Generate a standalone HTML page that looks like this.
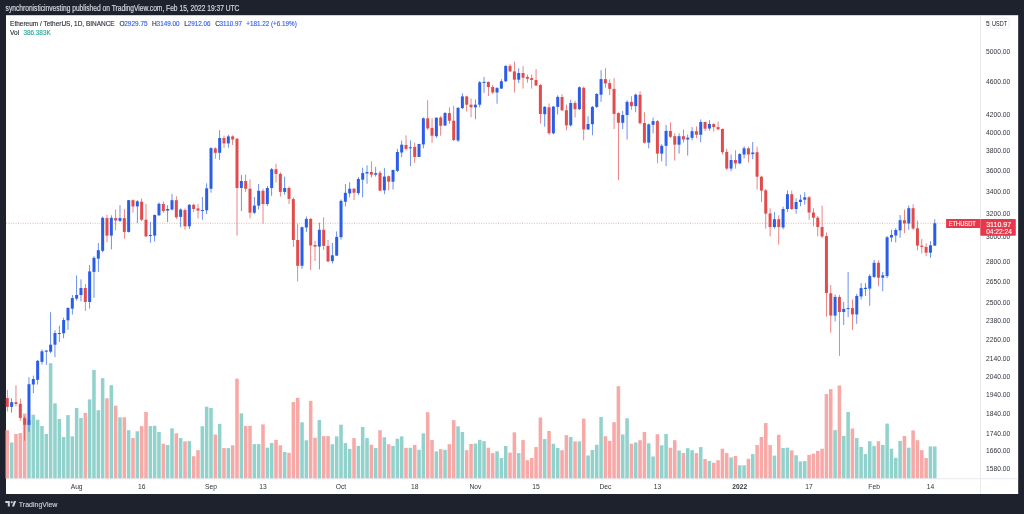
<!DOCTYPE html>
<html><head><meta charset="utf-8"><style>
html,body{margin:0;padding:0;}
body{width:1024px;height:514px;overflow:hidden;background:#1e222d;position:relative;font-family:"Liberation Sans", sans-serif;}
svg{position:absolute;left:0;top:0;will-change:transform;}
</style></head><body>
<svg width="1024" height="514" viewBox="0 0 1024 514" font-family='"Liberation Sans", sans-serif'>
<defs><filter id="soft" x="-5%" y="-50%" width="110%" height="200%"><feGaussianBlur stdDeviation="0.28"/></filter></defs>
<rect x="0" y="0" width="1024" height="514" fill="#1e222d"/>
<text x="5.6" y="10.9" font-size="8.4" fill="#d1d4dc" stroke="#d1d4dc" stroke-width="0.22" filter="url(#soft)" textLength="233.8" lengthAdjust="spacingAndGlyphs">synchronisticinvesting published on TradingView.com, Feb 15, 2022 19:37 UTC</text>
<rect x="6" y="15.2" width="1012.2" height="478.8" fill="#ffffff"/>
<g id="vol">
<rect x="5.53" y="430.2" width="3.55" height="48.4" fill="#f7a9a7"/>
<rect x="9.86" y="442.5" width="3.55" height="36.1" fill="#92d2cc"/>
<rect x="14.19" y="434" width="3.55" height="44.6" fill="#f7a9a7"/>
<rect x="18.53" y="433.1" width="3.55" height="45.5" fill="#f7a9a7"/>
<rect x="22.86" y="413.6" width="3.55" height="65" fill="#f7a9a7"/>
<rect x="27.2" y="420" width="3.55" height="58.6" fill="#92d2cc"/>
<rect x="31.53" y="414.8" width="3.55" height="63.8" fill="#92d2cc"/>
<rect x="35.86" y="419.8" width="3.55" height="58.8" fill="#92d2cc"/>
<rect x="40.2" y="426.1" width="3.55" height="52.5" fill="#92d2cc"/>
<rect x="44.53" y="434" width="3.55" height="44.6" fill="#92d2cc"/>
<rect x="48.86" y="363.2" width="3.55" height="115.4" fill="#92d2cc"/>
<rect x="53.2" y="403.3" width="3.55" height="75.3" fill="#92d2cc"/>
<rect x="57.53" y="419" width="3.55" height="59.6" fill="#92d2cc"/>
<rect x="61.87" y="437" width="3.55" height="41.6" fill="#92d2cc"/>
<rect x="66.2" y="415.1" width="3.55" height="63.5" fill="#92d2cc"/>
<rect x="70.53" y="436.3" width="3.55" height="42.3" fill="#92d2cc"/>
<rect x="74.87" y="408" width="3.55" height="70.6" fill="#92d2cc"/>
<rect x="79.2" y="418" width="3.55" height="60.6" fill="#92d2cc"/>
<rect x="83.54" y="412.9" width="3.55" height="65.7" fill="#f7a9a7"/>
<rect x="87.87" y="399.4" width="3.55" height="79.2" fill="#92d2cc"/>
<rect x="92.2" y="369.9" width="3.55" height="108.7" fill="#92d2cc"/>
<rect x="96.54" y="410.2" width="3.55" height="68.4" fill="#92d2cc"/>
<rect x="100.87" y="378.2" width="3.55" height="100.4" fill="#92d2cc"/>
<rect x="105.21" y="398.3" width="3.55" height="80.3" fill="#f7a9a7"/>
<rect x="109.54" y="385.2" width="3.55" height="93.4" fill="#92d2cc"/>
<rect x="113.87" y="405.7" width="3.55" height="72.9" fill="#f7a9a7"/>
<rect x="118.21" y="417.3" width="3.55" height="61.3" fill="#92d2cc"/>
<rect x="122.54" y="417.3" width="3.55" height="61.3" fill="#f7a9a7"/>
<rect x="126.88" y="430.2" width="3.55" height="48.4" fill="#92d2cc"/>
<rect x="131.21" y="438" width="3.55" height="40.6" fill="#f7a9a7"/>
<rect x="135.54" y="431.3" width="3.55" height="47.3" fill="#92d2cc"/>
<rect x="139.88" y="426.1" width="3.55" height="52.5" fill="#f7a9a7"/>
<rect x="144.21" y="412" width="3.55" height="66.6" fill="#f7a9a7"/>
<rect x="148.55" y="426.1" width="3.55" height="52.5" fill="#92d2cc"/>
<rect x="152.88" y="425.8" width="3.55" height="52.8" fill="#92d2cc"/>
<rect x="157.22" y="432" width="3.55" height="46.6" fill="#92d2cc"/>
<rect x="161.55" y="443.75" width="3.55" height="34.85" fill="#f7a9a7"/>
<rect x="165.88" y="445" width="3.55" height="33.6" fill="#92d2cc"/>
<rect x="170.22" y="428.3" width="3.55" height="50.3" fill="#92d2cc"/>
<rect x="174.55" y="433.3" width="3.55" height="45.3" fill="#f7a9a7"/>
<rect x="178.88" y="438" width="3.55" height="40.6" fill="#92d2cc"/>
<rect x="183.22" y="441.4" width="3.55" height="37.2" fill="#f7a9a7"/>
<rect x="187.55" y="441.1" width="3.55" height="37.5" fill="#92d2cc"/>
<rect x="191.89" y="456.25" width="3.55" height="22.35" fill="#f7a9a7"/>
<rect x="196.22" y="450.2" width="3.55" height="28.4" fill="#f7a9a7"/>
<rect x="200.55" y="426.25" width="3.55" height="52.35" fill="#92d2cc"/>
<rect x="204.89" y="406.7" width="3.55" height="71.9" fill="#92d2cc"/>
<rect x="209.22" y="408" width="3.55" height="70.6" fill="#92d2cc"/>
<rect x="213.56" y="434.5" width="3.55" height="44.1" fill="#f7a9a7"/>
<rect x="217.89" y="423.9" width="3.55" height="54.7" fill="#92d2cc"/>
<rect x="222.22" y="448.1" width="3.55" height="30.5" fill="#f7a9a7"/>
<rect x="226.56" y="448.1" width="3.55" height="30.5" fill="#92d2cc"/>
<rect x="230.89" y="445.3" width="3.55" height="33.3" fill="#f7a9a7"/>
<rect x="235.23" y="378.6" width="3.55" height="100" fill="#f7a9a7"/>
<rect x="239.56" y="413.3" width="3.55" height="65.3" fill="#92d2cc"/>
<rect x="243.89" y="425.9" width="3.55" height="52.7" fill="#f7a9a7"/>
<rect x="248.23" y="425.8" width="3.55" height="52.8" fill="#f7a9a7"/>
<rect x="252.56" y="444.1" width="3.55" height="34.5" fill="#92d2cc"/>
<rect x="256.9" y="444.1" width="3.55" height="34.5" fill="#92d2cc"/>
<rect x="261.23" y="424.4" width="3.55" height="54.2" fill="#f7a9a7"/>
<rect x="265.56" y="447.7" width="3.55" height="30.9" fill="#92d2cc"/>
<rect x="269.9" y="443" width="3.55" height="35.6" fill="#92d2cc"/>
<rect x="274.23" y="439.8" width="3.55" height="38.8" fill="#f7a9a7"/>
<rect x="278.57" y="445.3" width="3.55" height="33.3" fill="#f7a9a7"/>
<rect x="282.9" y="452" width="3.55" height="26.6" fill="#92d2cc"/>
<rect x="287.24" y="452.8" width="3.55" height="25.8" fill="#f7a9a7"/>
<rect x="291.57" y="402" width="3.55" height="76.6" fill="#f7a9a7"/>
<rect x="295.9" y="397.8" width="3.55" height="80.8" fill="#f7a9a7"/>
<rect x="300.24" y="422.3" width="3.55" height="56.3" fill="#92d2cc"/>
<rect x="304.57" y="440.3" width="3.55" height="38.3" fill="#92d2cc"/>
<rect x="308.91" y="400.9" width="3.55" height="77.7" fill="#f7a9a7"/>
<rect x="313.24" y="437.7" width="3.55" height="40.9" fill="#f7a9a7"/>
<rect x="317.57" y="420" width="3.55" height="58.6" fill="#92d2cc"/>
<rect x="321.91" y="436.1" width="3.55" height="42.5" fill="#f7a9a7"/>
<rect x="326.24" y="436.1" width="3.55" height="42.5" fill="#f7a9a7"/>
<rect x="330.57" y="444.2" width="3.55" height="34.4" fill="#92d2cc"/>
<rect x="334.91" y="436.4" width="3.55" height="42.2" fill="#92d2cc"/>
<rect x="339.24" y="424.7" width="3.55" height="53.9" fill="#92d2cc"/>
<rect x="343.58" y="443.1" width="3.55" height="35.5" fill="#92d2cc"/>
<rect x="347.91" y="448.9" width="3.55" height="29.7" fill="#92d2cc"/>
<rect x="352.25" y="438.1" width="3.55" height="40.5" fill="#f7a9a7"/>
<rect x="356.58" y="445.9" width="3.55" height="32.7" fill="#92d2cc"/>
<rect x="360.91" y="427" width="3.55" height="51.6" fill="#92d2cc"/>
<rect x="365.25" y="438.1" width="3.55" height="40.5" fill="#92d2cc"/>
<rect x="369.58" y="444.7" width="3.55" height="33.9" fill="#f7a9a7"/>
<rect x="373.92" y="448.1" width="3.55" height="30.5" fill="#92d2cc"/>
<rect x="378.25" y="430.2" width="3.55" height="48.4" fill="#f7a9a7"/>
<rect x="382.58" y="437.3" width="3.55" height="41.3" fill="#92d2cc"/>
<rect x="386.92" y="444.2" width="3.55" height="34.4" fill="#f7a9a7"/>
<rect x="391.25" y="445.9" width="3.55" height="32.7" fill="#92d2cc"/>
<rect x="395.58" y="438.75" width="3.55" height="39.85" fill="#92d2cc"/>
<rect x="399.92" y="436.4" width="3.55" height="42.2" fill="#92d2cc"/>
<rect x="404.25" y="447.8" width="3.55" height="30.8" fill="#f7a9a7"/>
<rect x="408.59" y="447.8" width="3.55" height="30.8" fill="#92d2cc"/>
<rect x="412.92" y="445" width="3.55" height="33.6" fill="#f7a9a7"/>
<rect x="417.25" y="449.8" width="3.55" height="28.8" fill="#92d2cc"/>
<rect x="421.59" y="433.4" width="3.55" height="45.2" fill="#92d2cc"/>
<rect x="425.92" y="412.2" width="3.55" height="66.4" fill="#f7a9a7"/>
<rect x="430.26" y="440" width="3.55" height="38.6" fill="#f7a9a7"/>
<rect x="434.59" y="451.4" width="3.55" height="27.2" fill="#92d2cc"/>
<rect x="438.93" y="449.1" width="3.55" height="29.5" fill="#f7a9a7"/>
<rect x="443.26" y="449.8" width="3.55" height="28.8" fill="#92d2cc"/>
<rect x="447.59" y="444.2" width="3.55" height="34.4" fill="#f7a9a7"/>
<rect x="451.93" y="420.1" width="3.55" height="58.5" fill="#f7a9a7"/>
<rect x="456.26" y="426.3" width="3.55" height="52.3" fill="#92d2cc"/>
<rect x="460.59" y="432" width="3.55" height="46.6" fill="#92d2cc"/>
<rect x="464.93" y="450.25" width="3.55" height="28.35" fill="#f7a9a7"/>
<rect x="469.26" y="444" width="3.55" height="34.6" fill="#f7a9a7"/>
<rect x="473.6" y="443.6" width="3.55" height="35" fill="#92d2cc"/>
<rect x="477.93" y="439.8" width="3.55" height="38.8" fill="#92d2cc"/>
<rect x="482.26" y="441.2" width="3.55" height="37.4" fill="#92d2cc"/>
<rect x="486.6" y="447.7" width="3.55" height="30.9" fill="#f7a9a7"/>
<rect x="490.93" y="453.1" width="3.55" height="25.5" fill="#f7a9a7"/>
<rect x="495.27" y="451.3" width="3.55" height="27.3" fill="#92d2cc"/>
<rect x="499.6" y="458" width="3.55" height="20.6" fill="#92d2cc"/>
<rect x="503.94" y="446" width="3.55" height="32.6" fill="#92d2cc"/>
<rect x="508.27" y="452.6" width="3.55" height="26" fill="#f7a9a7"/>
<rect x="512.6" y="432.3" width="3.55" height="46.3" fill="#f7a9a7"/>
<rect x="516.94" y="453.1" width="3.55" height="25.5" fill="#92d2cc"/>
<rect x="521.27" y="440.1" width="3.55" height="38.5" fill="#f7a9a7"/>
<rect x="525.6" y="460.2" width="3.55" height="18.4" fill="#f7a9a7"/>
<rect x="529.94" y="458" width="3.55" height="20.6" fill="#f7a9a7"/>
<rect x="534.27" y="447.1" width="3.55" height="31.5" fill="#f7a9a7"/>
<rect x="538.61" y="417.5" width="3.55" height="61.1" fill="#f7a9a7"/>
<rect x="542.94" y="439.1" width="3.55" height="39.5" fill="#92d2cc"/>
<rect x="547.27" y="430.85" width="3.55" height="47.75" fill="#f7a9a7"/>
<rect x="551.61" y="443.75" width="3.55" height="34.85" fill="#92d2cc"/>
<rect x="555.94" y="448" width="3.55" height="30.6" fill="#92d2cc"/>
<rect x="560.28" y="450.25" width="3.55" height="28.35" fill="#f7a9a7"/>
<rect x="564.61" y="435.1" width="3.55" height="43.5" fill="#f7a9a7"/>
<rect x="568.94" y="437" width="3.55" height="41.6" fill="#92d2cc"/>
<rect x="573.28" y="441.4" width="3.55" height="37.2" fill="#f7a9a7"/>
<rect x="577.61" y="441.4" width="3.55" height="37.2" fill="#92d2cc"/>
<rect x="581.95" y="418.6" width="3.55" height="60" fill="#f7a9a7"/>
<rect x="586.28" y="455.5" width="3.55" height="23.1" fill="#92d2cc"/>
<rect x="590.61" y="450" width="3.55" height="28.6" fill="#92d2cc"/>
<rect x="594.95" y="444.75" width="3.55" height="33.85" fill="#92d2cc"/>
<rect x="599.28" y="417" width="3.55" height="61.6" fill="#92d2cc"/>
<rect x="603.62" y="436.2" width="3.55" height="42.4" fill="#f7a9a7"/>
<rect x="607.95" y="440.85" width="3.55" height="37.75" fill="#f7a9a7"/>
<rect x="612.28" y="422.2" width="3.55" height="56.4" fill="#f7a9a7"/>
<rect x="616.62" y="386.25" width="3.55" height="92.35" fill="#f7a9a7"/>
<rect x="620.95" y="434.4" width="3.55" height="44.2" fill="#92d2cc"/>
<rect x="625.29" y="418.3" width="3.55" height="60.3" fill="#92d2cc"/>
<rect x="629.62" y="443.75" width="3.55" height="34.85" fill="#f7a9a7"/>
<rect x="633.95" y="442.5" width="3.55" height="36.1" fill="#92d2cc"/>
<rect x="638.29" y="440.2" width="3.55" height="38.4" fill="#f7a9a7"/>
<rect x="642.62" y="432" width="3.55" height="46.6" fill="#f7a9a7"/>
<rect x="646.96" y="443.3" width="3.55" height="35.3" fill="#92d2cc"/>
<rect x="651.29" y="456.5" width="3.55" height="22.1" fill="#92d2cc"/>
<rect x="655.62" y="434.2" width="3.55" height="44.4" fill="#f7a9a7"/>
<rect x="659.96" y="445.3" width="3.55" height="33.3" fill="#92d2cc"/>
<rect x="664.29" y="433.9" width="3.55" height="44.7" fill="#92d2cc"/>
<rect x="668.63" y="447.7" width="3.55" height="30.9" fill="#f7a9a7"/>
<rect x="672.96" y="440.2" width="3.55" height="38.4" fill="#f7a9a7"/>
<rect x="677.29" y="450.4" width="3.55" height="28.2" fill="#92d2cc"/>
<rect x="681.63" y="453.1" width="3.55" height="25.5" fill="#f7a9a7"/>
<rect x="685.96" y="448.2" width="3.55" height="30.4" fill="#92d2cc"/>
<rect x="690.3" y="450.25" width="3.55" height="28.35" fill="#92d2cc"/>
<rect x="694.63" y="453.1" width="3.55" height="25.5" fill="#f7a9a7"/>
<rect x="698.96" y="447.1" width="3.55" height="31.5" fill="#92d2cc"/>
<rect x="703.3" y="459" width="3.55" height="19.6" fill="#f7a9a7"/>
<rect x="707.63" y="460.9" width="3.55" height="17.7" fill="#92d2cc"/>
<rect x="711.97" y="462.7" width="3.55" height="15.9" fill="#f7a9a7"/>
<rect x="716.3" y="460.2" width="3.55" height="18.4" fill="#f7a9a7"/>
<rect x="720.63" y="448.7" width="3.55" height="29.9" fill="#f7a9a7"/>
<rect x="724.97" y="453.1" width="3.55" height="25.5" fill="#f7a9a7"/>
<rect x="729.3" y="457.4" width="3.55" height="21.2" fill="#92d2cc"/>
<rect x="733.64" y="456" width="3.55" height="22.6" fill="#f7a9a7"/>
<rect x="737.97" y="465.3" width="3.55" height="13.3" fill="#92d2cc"/>
<rect x="742.3" y="465.3" width="3.55" height="13.3" fill="#92d2cc"/>
<rect x="746.64" y="458.8" width="3.55" height="19.8" fill="#f7a9a7"/>
<rect x="750.97" y="454.1" width="3.55" height="24.5" fill="#92d2cc"/>
<rect x="755.31" y="445.1" width="3.55" height="33.5" fill="#f7a9a7"/>
<rect x="759.64" y="437" width="3.55" height="41.6" fill="#f7a9a7"/>
<rect x="763.97" y="423" width="3.55" height="55.6" fill="#f7a9a7"/>
<rect x="768.31" y="445.1" width="3.55" height="33.5" fill="#f7a9a7"/>
<rect x="772.64" y="455.6" width="3.55" height="23" fill="#92d2cc"/>
<rect x="776.98" y="434.8" width="3.55" height="43.8" fill="#f7a9a7"/>
<rect x="781.31" y="448" width="3.55" height="30.6" fill="#92d2cc"/>
<rect x="785.64" y="447.7" width="3.55" height="30.9" fill="#92d2cc"/>
<rect x="789.98" y="450.4" width="3.55" height="28.2" fill="#f7a9a7"/>
<rect x="794.31" y="455.2" width="3.55" height="23.4" fill="#92d2cc"/>
<rect x="798.65" y="461.4" width="3.55" height="17.2" fill="#92d2cc"/>
<rect x="802.98" y="461.1" width="3.55" height="17.5" fill="#92d2cc"/>
<rect x="807.31" y="454.8" width="3.55" height="23.8" fill="#f7a9a7"/>
<rect x="811.65" y="453.6" width="3.55" height="25" fill="#f7a9a7"/>
<rect x="815.98" y="450.9" width="3.55" height="27.7" fill="#f7a9a7"/>
<rect x="820.32" y="448.7" width="3.55" height="29.9" fill="#f7a9a7"/>
<rect x="824.65" y="394.1" width="3.55" height="84.5" fill="#f7a9a7"/>
<rect x="828.98" y="389.1" width="3.55" height="89.5" fill="#f7a9a7"/>
<rect x="833.32" y="430.1" width="3.55" height="48.5" fill="#92d2cc"/>
<rect x="837.65" y="385.5" width="3.55" height="93.1" fill="#f7a9a7"/>
<rect x="841.99" y="435.9" width="3.55" height="42.7" fill="#92d2cc"/>
<rect x="846.32" y="412" width="3.55" height="66.6" fill="#92d2cc"/>
<rect x="850.65" y="428.5" width="3.55" height="50.1" fill="#f7a9a7"/>
<rect x="854.99" y="438" width="3.55" height="40.6" fill="#92d2cc"/>
<rect x="859.32" y="446.9" width="3.55" height="31.7" fill="#92d2cc"/>
<rect x="863.66" y="454.1" width="3.55" height="24.5" fill="#92d2cc"/>
<rect x="867.99" y="441.2" width="3.55" height="37.4" fill="#92d2cc"/>
<rect x="872.32" y="446" width="3.55" height="32.6" fill="#92d2cc"/>
<rect x="876.66" y="441.2" width="3.55" height="37.4" fill="#f7a9a7"/>
<rect x="880.99" y="444.9" width="3.55" height="33.7" fill="#92d2cc"/>
<rect x="885.33" y="423.6" width="3.55" height="55" fill="#92d2cc"/>
<rect x="889.66" y="448.7" width="3.55" height="29.9" fill="#92d2cc"/>
<rect x="893.99" y="457.8" width="3.55" height="20.8" fill="#92d2cc"/>
<rect x="898.33" y="440.9" width="3.55" height="37.7" fill="#92d2cc"/>
<rect x="902.66" y="436" width="3.55" height="42.6" fill="#f7a9a7"/>
<rect x="907" y="447.7" width="3.55" height="30.9" fill="#92d2cc"/>
<rect x="911.33" y="430.4" width="3.55" height="48.2" fill="#f7a9a7"/>
<rect x="915.66" y="440.2" width="3.55" height="38.4" fill="#f7a9a7"/>
<rect x="920" y="450.2" width="3.55" height="28.4" fill="#f7a9a7"/>
<rect x="924.33" y="458.1" width="3.55" height="20.5" fill="#f7a9a7"/>
<rect x="928.67" y="446.4" width="3.55" height="32.2" fill="#92d2cc"/>
<rect x="933" y="446.4" width="3.55" height="32.2" fill="#92d2cc"/>
</g>
<line x1="6" y1="223.27" x2="946" y2="223.27" stroke="#e04c4e" stroke-width="0.8" stroke-dasharray="1 1.4" opacity="0.55"/>
<g id="candles">
<rect x="6.9" y="390" width="0.8" height="21.6" fill="#e04c4e" fill-opacity="0.85"/>
<rect x="5.8" y="398.1" width="3.0" height="8.8" fill="#e04c4e"/>
<rect x="11.23" y="398.3" width="0.8" height="14.4" fill="#2a5ee8" fill-opacity="0.85"/>
<rect x="10.13" y="402.2" width="3.0" height="4.7" fill="#2a5ee8"/>
<rect x="15.57" y="385.3" width="0.8" height="21.1" fill="#e04c4e" fill-opacity="0.85"/>
<rect x="14.47" y="402.2" width="3.0" height="1.8" fill="#e04c4e"/>
<rect x="19.9" y="398.6" width="0.8" height="22" fill="#e04c4e" fill-opacity="0.85"/>
<rect x="18.8" y="403.8" width="3.0" height="14.1" fill="#e04c4e"/>
<rect x="24.24" y="416.5" width="0.8" height="24.1" fill="#e04c4e" fill-opacity="0.85"/>
<rect x="23.14" y="418.1" width="3.0" height="6.7" fill="#e04c4e"/>
<rect x="28.57" y="377.2" width="0.8" height="54.7" fill="#2a5ee8" fill-opacity="0.85"/>
<rect x="27.47" y="384.2" width="3.0" height="40.7" fill="#2a5ee8"/>
<rect x="32.9" y="375.6" width="0.8" height="17.5" fill="#2a5ee8" fill-opacity="0.85"/>
<rect x="31.8" y="379" width="3.0" height="5.5" fill="#2a5ee8"/>
<rect x="37.24" y="360" width="0.8" height="24.5" fill="#2a5ee8" fill-opacity="0.85"/>
<rect x="36.14" y="360.8" width="3.0" height="19" fill="#2a5ee8"/>
<rect x="41.57" y="349.4" width="0.8" height="15.3" fill="#2a5ee8" fill-opacity="0.85"/>
<rect x="40.47" y="351.3" width="3.0" height="10.6" fill="#2a5ee8"/>
<rect x="45.91" y="350.2" width="0.8" height="14.5" fill="#2a5ee8" fill-opacity="0.85"/>
<rect x="44.81" y="350.6" width="3.0" height="1.1" fill="#2a5ee8"/>
<rect x="50.24" y="312.2" width="0.8" height="41.1" fill="#2a5ee8" fill-opacity="0.85"/>
<rect x="49.14" y="344.7" width="3.0" height="7" fill="#2a5ee8"/>
<rect x="54.57" y="330.2" width="0.8" height="27" fill="#2a5ee8" fill-opacity="0.85"/>
<rect x="53.47" y="333" width="3.0" height="11.7" fill="#2a5ee8"/>
<rect x="58.91" y="325.8" width="0.8" height="16.1" fill="#2a5ee8" fill-opacity="0.85"/>
<rect x="57.81" y="333" width="3.0" height="1" fill="#2a5ee8"/>
<rect x="63.24" y="317.7" width="0.8" height="20.6" fill="#2a5ee8" fill-opacity="0.85"/>
<rect x="62.14" y="320" width="3.0" height="13.3" fill="#2a5ee8"/>
<rect x="67.58" y="307.2" width="0.8" height="22.6" fill="#2a5ee8" fill-opacity="0.85"/>
<rect x="66.48" y="308" width="3.0" height="12.3" fill="#2a5ee8"/>
<rect x="71.91" y="295" width="0.8" height="19.5" fill="#2a5ee8" fill-opacity="0.85"/>
<rect x="70.81" y="298.1" width="3.0" height="10.5" fill="#2a5ee8"/>
<rect x="76.24" y="275.5" width="0.8" height="25" fill="#2a5ee8" fill-opacity="0.85"/>
<rect x="75.14" y="295" width="3.0" height="3.6" fill="#2a5ee8"/>
<rect x="80.58" y="279.4" width="0.8" height="21.9" fill="#2a5ee8" fill-opacity="0.85"/>
<rect x="79.48" y="288" width="3.0" height="7" fill="#2a5ee8"/>
<rect x="84.91" y="284" width="0.8" height="27" fill="#e04c4e" fill-opacity="0.85"/>
<rect x="83.81" y="288" width="3.0" height="14" fill="#e04c4e"/>
<rect x="89.25" y="265" width="0.8" height="43.5" fill="#2a5ee8" fill-opacity="0.85"/>
<rect x="88.15" y="271.4" width="3.0" height="30.6" fill="#2a5ee8"/>
<rect x="93.58" y="256.2" width="0.8" height="41.6" fill="#2a5ee8" fill-opacity="0.85"/>
<rect x="92.48" y="257.8" width="3.0" height="14.1" fill="#2a5ee8"/>
<rect x="97.91" y="243" width="0.8" height="29" fill="#2a5ee8" fill-opacity="0.85"/>
<rect x="96.81" y="250.2" width="3.0" height="8.4" fill="#2a5ee8"/>
<rect x="102.25" y="216.5" width="0.8" height="35.8" fill="#2a5ee8" fill-opacity="0.85"/>
<rect x="101.15" y="217.8" width="3.0" height="33" fill="#2a5ee8"/>
<rect x="106.58" y="214.7" width="0.8" height="27.6" fill="#e04c4e" fill-opacity="0.85"/>
<rect x="105.48" y="218.1" width="3.0" height="17.5" fill="#e04c4e"/>
<rect x="110.92" y="215.3" width="0.8" height="34.1" fill="#2a5ee8" fill-opacity="0.85"/>
<rect x="109.82" y="217.8" width="3.0" height="17.8" fill="#2a5ee8"/>
<rect x="115.25" y="209.5" width="0.8" height="20.8" fill="#e04c4e" fill-opacity="0.85"/>
<rect x="114.15" y="218.1" width="3.0" height="2.4" fill="#e04c4e"/>
<rect x="119.58" y="205.2" width="0.8" height="16.8" fill="#2a5ee8" fill-opacity="0.85"/>
<rect x="118.48" y="218.1" width="3.0" height="2.7" fill="#2a5ee8"/>
<rect x="123.92" y="209.1" width="0.8" height="29.7" fill="#e04c4e" fill-opacity="0.85"/>
<rect x="122.82" y="218.1" width="3.0" height="13.8" fill="#e04c4e"/>
<rect x="128.25" y="200" width="0.8" height="32.5" fill="#2a5ee8" fill-opacity="0.85"/>
<rect x="127.15" y="200.2" width="3.0" height="31.7" fill="#2a5ee8"/>
<rect x="132.59" y="199.4" width="0.8" height="13.3" fill="#e04c4e" fill-opacity="0.85"/>
<rect x="131.49" y="200.2" width="3.0" height="6.2" fill="#e04c4e"/>
<rect x="136.92" y="200.2" width="0.8" height="22.9" fill="#2a5ee8" fill-opacity="0.85"/>
<rect x="135.82" y="201.3" width="3.0" height="5.1" fill="#2a5ee8"/>
<rect x="141.25" y="198.6" width="0.8" height="22.4" fill="#e04c4e" fill-opacity="0.85"/>
<rect x="140.15" y="201.7" width="3.0" height="18" fill="#e04c4e"/>
<rect x="145.59" y="203.8" width="0.8" height="33.1" fill="#e04c4e" fill-opacity="0.85"/>
<rect x="144.49" y="219.7" width="3.0" height="16.7" fill="#e04c4e"/>
<rect x="149.92" y="222" width="0.8" height="20.8" fill="#2a5ee8" fill-opacity="0.85"/>
<rect x="148.82" y="235" width="3.0" height="1" fill="#2a5ee8"/>
<rect x="154.26" y="214.5" width="0.8" height="27.1" fill="#2a5ee8" fill-opacity="0.85"/>
<rect x="153.16" y="215" width="3.0" height="20.6" fill="#2a5ee8"/>
<rect x="158.59" y="202.5" width="0.8" height="13.5" fill="#2a5ee8" fill-opacity="0.85"/>
<rect x="157.49" y="203.8" width="3.0" height="11.5" fill="#2a5ee8"/>
<rect x="162.92" y="201.3" width="0.8" height="11.4" fill="#e04c4e" fill-opacity="0.85"/>
<rect x="161.82" y="204" width="3.0" height="7" fill="#e04c4e"/>
<rect x="167.26" y="205.2" width="0.8" height="16.8" fill="#2a5ee8" fill-opacity="0.85"/>
<rect x="166.16" y="209" width="3.0" height="1.6" fill="#2a5ee8"/>
<rect x="171.59" y="193.9" width="0.8" height="16.6" fill="#2a5ee8" fill-opacity="0.85"/>
<rect x="170.49" y="200.2" width="3.0" height="9.3" fill="#2a5ee8"/>
<rect x="175.93" y="196.3" width="0.8" height="22.6" fill="#e04c4e" fill-opacity="0.85"/>
<rect x="174.83" y="200.2" width="3.0" height="17.1" fill="#e04c4e"/>
<rect x="180.26" y="208.4" width="0.8" height="18.8" fill="#2a5ee8" fill-opacity="0.85"/>
<rect x="179.16" y="209.5" width="3.0" height="7.4" fill="#2a5ee8"/>
<rect x="184.59" y="208.4" width="0.8" height="21.4" fill="#e04c4e" fill-opacity="0.85"/>
<rect x="183.49" y="210" width="3.0" height="16.3" fill="#e04c4e"/>
<rect x="188.93" y="204" width="0.8" height="25" fill="#2a5ee8" fill-opacity="0.85"/>
<rect x="187.83" y="204.8" width="3.0" height="21.5" fill="#2a5ee8"/>
<rect x="193.26" y="203.8" width="0.8" height="8.1" fill="#e04c4e" fill-opacity="0.85"/>
<rect x="192.16" y="204.8" width="3.0" height="4.2" fill="#e04c4e"/>
<rect x="197.6" y="203.8" width="0.8" height="14.7" fill="#e04c4e" fill-opacity="0.85"/>
<rect x="196.5" y="208.4" width="3.0" height="2.2" fill="#e04c4e"/>
<rect x="201.93" y="197" width="0.8" height="22.7" fill="#2a5ee8" fill-opacity="0.85"/>
<rect x="200.83" y="210" width="3.0" height="1" fill="#2a5ee8"/>
<rect x="206.26" y="183.3" width="0.8" height="30.9" fill="#2a5ee8" fill-opacity="0.85"/>
<rect x="205.16" y="188.3" width="3.0" height="22" fill="#2a5ee8"/>
<rect x="210.6" y="147.3" width="0.8" height="45.4" fill="#2a5ee8" fill-opacity="0.85"/>
<rect x="209.5" y="148.1" width="3.0" height="40.65" fill="#2a5ee8"/>
<rect x="214.93" y="147.3" width="0.8" height="11.45" fill="#e04c4e" fill-opacity="0.85"/>
<rect x="213.83" y="148.4" width="3.0" height="4.4" fill="#e04c4e"/>
<rect x="219.27" y="130.2" width="0.8" height="29.6" fill="#2a5ee8" fill-opacity="0.85"/>
<rect x="218.17" y="138" width="3.0" height="14.8" fill="#2a5ee8"/>
<rect x="223.6" y="135.6" width="0.8" height="12.2" fill="#e04c4e" fill-opacity="0.85"/>
<rect x="222.5" y="138" width="3.0" height="5.4" fill="#e04c4e"/>
<rect x="227.93" y="134.8" width="0.8" height="13" fill="#2a5ee8" fill-opacity="0.85"/>
<rect x="226.83" y="136.4" width="3.0" height="7" fill="#2a5ee8"/>
<rect x="232.27" y="135.3" width="0.8" height="9.7" fill="#e04c4e" fill-opacity="0.85"/>
<rect x="231.17" y="136.4" width="3.0" height="3.1" fill="#e04c4e"/>
<rect x="236.6" y="138" width="0.8" height="97.6" fill="#e04c4e" fill-opacity="0.85"/>
<rect x="235.5" y="138.75" width="3.0" height="49.25" fill="#e04c4e"/>
<rect x="240.94" y="175" width="0.8" height="36.1" fill="#2a5ee8" fill-opacity="0.85"/>
<rect x="239.84" y="181" width="3.0" height="7" fill="#2a5ee8"/>
<rect x="245.27" y="174.4" width="0.8" height="17.5" fill="#e04c4e" fill-opacity="0.85"/>
<rect x="244.17" y="181" width="3.0" height="7.75" fill="#e04c4e"/>
<rect x="249.6" y="179.4" width="0.8" height="39" fill="#e04c4e" fill-opacity="0.85"/>
<rect x="248.5" y="188.75" width="3.0" height="23.95" fill="#e04c4e"/>
<rect x="253.94" y="197" width="0.8" height="17" fill="#2a5ee8" fill-opacity="0.85"/>
<rect x="252.84" y="205.6" width="3.0" height="7.1" fill="#2a5ee8"/>
<rect x="258.27" y="184" width="0.8" height="25.5" fill="#2a5ee8" fill-opacity="0.85"/>
<rect x="257.17" y="190.8" width="3.0" height="14.8" fill="#2a5ee8"/>
<rect x="262.61" y="188.75" width="0.8" height="34.85" fill="#e04c4e" fill-opacity="0.85"/>
<rect x="261.51" y="190.8" width="3.0" height="13.2" fill="#e04c4e"/>
<rect x="266.94" y="186" width="0.8" height="20" fill="#2a5ee8" fill-opacity="0.85"/>
<rect x="265.84" y="188" width="3.0" height="16" fill="#2a5ee8"/>
<rect x="271.27" y="168" width="0.8" height="27.8" fill="#2a5ee8" fill-opacity="0.85"/>
<rect x="270.17" y="169.2" width="3.0" height="18.8" fill="#2a5ee8"/>
<rect x="275.61" y="163.75" width="0.8" height="18.75" fill="#e04c4e" fill-opacity="0.85"/>
<rect x="274.51" y="169.2" width="3.0" height="4.7" fill="#e04c4e"/>
<rect x="279.94" y="172.3" width="0.8" height="24.3" fill="#e04c4e" fill-opacity="0.85"/>
<rect x="278.84" y="173.9" width="3.0" height="18" fill="#e04c4e"/>
<rect x="284.28" y="176.6" width="0.8" height="18.1" fill="#2a5ee8" fill-opacity="0.85"/>
<rect x="283.18" y="188" width="3.0" height="3.9" fill="#2a5ee8"/>
<rect x="288.61" y="186.4" width="0.8" height="17.6" fill="#e04c4e" fill-opacity="0.85"/>
<rect x="287.51" y="188" width="3.0" height="10.9" fill="#e04c4e"/>
<rect x="292.94" y="197.5" width="0.8" height="49.5" fill="#e04c4e" fill-opacity="0.85"/>
<rect x="291.84" y="199.1" width="3.0" height="40.9" fill="#e04c4e"/>
<rect x="297.28" y="223.6" width="0.8" height="57.8" fill="#e04c4e" fill-opacity="0.85"/>
<rect x="296.18" y="240" width="3.0" height="25.8" fill="#e04c4e"/>
<rect x="301.61" y="226.5" width="0.8" height="42.4" fill="#2a5ee8" fill-opacity="0.85"/>
<rect x="300.51" y="227.2" width="3.0" height="38.6" fill="#2a5ee8"/>
<rect x="305.95" y="216.6" width="0.8" height="15.3" fill="#2a5ee8" fill-opacity="0.85"/>
<rect x="304.85" y="218.9" width="3.0" height="8.6" fill="#2a5ee8"/>
<rect x="310.28" y="218" width="0.8" height="52" fill="#e04c4e" fill-opacity="0.85"/>
<rect x="309.18" y="218.9" width="3.0" height="26.6" fill="#e04c4e"/>
<rect x="314.61" y="240.8" width="0.8" height="20.2" fill="#e04c4e" fill-opacity="0.85"/>
<rect x="313.51" y="245" width="3.0" height="1.6" fill="#e04c4e"/>
<rect x="318.95" y="222.8" width="0.8" height="46.6" fill="#2a5ee8" fill-opacity="0.85"/>
<rect x="317.85" y="229.8" width="3.0" height="16.8" fill="#2a5ee8"/>
<rect x="323.28" y="217.3" width="0.8" height="32.7" fill="#e04c4e" fill-opacity="0.85"/>
<rect x="322.18" y="229.8" width="3.0" height="16.1" fill="#e04c4e"/>
<rect x="327.62" y="240" width="0.8" height="22" fill="#e04c4e" fill-opacity="0.85"/>
<rect x="326.52" y="245.9" width="3.0" height="15.5" fill="#e04c4e"/>
<rect x="331.95" y="243" width="0.8" height="20.4" fill="#2a5ee8" fill-opacity="0.85"/>
<rect x="330.85" y="255.3" width="3.0" height="5.8" fill="#2a5ee8"/>
<rect x="336.28" y="231.4" width="0.8" height="24.6" fill="#2a5ee8" fill-opacity="0.85"/>
<rect x="335.18" y="236.9" width="3.0" height="18.7" fill="#2a5ee8"/>
<rect x="340.62" y="199.4" width="0.8" height="40.3" fill="#2a5ee8" fill-opacity="0.85"/>
<rect x="339.52" y="200.9" width="3.0" height="36.3" fill="#2a5ee8"/>
<rect x="344.95" y="184" width="0.8" height="22.4" fill="#2a5ee8" fill-opacity="0.85"/>
<rect x="343.85" y="192.8" width="3.0" height="8.9" fill="#2a5ee8"/>
<rect x="349.29" y="182.2" width="0.8" height="15.1" fill="#2a5ee8" fill-opacity="0.85"/>
<rect x="348.19" y="188.75" width="3.0" height="4.65" fill="#2a5ee8"/>
<rect x="353.62" y="188" width="0.8" height="12" fill="#e04c4e" fill-opacity="0.85"/>
<rect x="352.52" y="188.75" width="3.0" height="3.95" fill="#e04c4e"/>
<rect x="357.95" y="177" width="0.8" height="18" fill="#2a5ee8" fill-opacity="0.85"/>
<rect x="356.85" y="179" width="3.0" height="14.1" fill="#2a5ee8"/>
<rect x="362.29" y="167.7" width="0.8" height="29.6" fill="#2a5ee8" fill-opacity="0.85"/>
<rect x="361.19" y="173.1" width="3.0" height="6.6" fill="#2a5ee8"/>
<rect x="366.62" y="165.3" width="0.8" height="18.45" fill="#2a5ee8" fill-opacity="0.85"/>
<rect x="365.52" y="172" width="3.0" height="1.4" fill="#2a5ee8"/>
<rect x="370.96" y="161.4" width="0.8" height="16.1" fill="#e04c4e" fill-opacity="0.85"/>
<rect x="369.86" y="172" width="3.0" height="2.7" fill="#e04c4e"/>
<rect x="375.29" y="166.9" width="0.8" height="9.7" fill="#2a5ee8" fill-opacity="0.85"/>
<rect x="374.19" y="173.1" width="3.0" height="1.6" fill="#2a5ee8"/>
<rect x="379.62" y="170.8" width="0.8" height="20.3" fill="#e04c4e" fill-opacity="0.85"/>
<rect x="378.52" y="172.8" width="3.0" height="17.8" fill="#e04c4e"/>
<rect x="383.96" y="168.1" width="0.8" height="26.1" fill="#2a5ee8" fill-opacity="0.85"/>
<rect x="382.86" y="176.6" width="3.0" height="13.7" fill="#2a5ee8"/>
<rect x="388.29" y="175.5" width="0.8" height="14.8" fill="#e04c4e" fill-opacity="0.85"/>
<rect x="387.19" y="176.25" width="3.0" height="5.45" fill="#e04c4e"/>
<rect x="392.63" y="169.5" width="0.8" height="20" fill="#2a5ee8" fill-opacity="0.85"/>
<rect x="391.53" y="170" width="3.0" height="11.7" fill="#2a5ee8"/>
<rect x="396.96" y="148.9" width="0.8" height="23.1" fill="#2a5ee8" fill-opacity="0.85"/>
<rect x="395.86" y="152" width="3.0" height="18.8" fill="#2a5ee8"/>
<rect x="401.29" y="140.6" width="0.8" height="16.6" fill="#2a5ee8" fill-opacity="0.85"/>
<rect x="400.19" y="144.7" width="3.0" height="7.8" fill="#2a5ee8"/>
<rect x="405.63" y="135.3" width="0.8" height="15.2" fill="#e04c4e" fill-opacity="0.85"/>
<rect x="404.53" y="145" width="3.0" height="3.9" fill="#e04c4e"/>
<rect x="409.96" y="140.3" width="0.8" height="25.8" fill="#2a5ee8" fill-opacity="0.85"/>
<rect x="408.86" y="147.3" width="3.0" height="1" fill="#2a5ee8"/>
<rect x="414.3" y="142.7" width="0.8" height="20.1" fill="#e04c4e" fill-opacity="0.85"/>
<rect x="413.2" y="146.9" width="3.0" height="10" fill="#e04c4e"/>
<rect x="418.63" y="143.75" width="0.8" height="13.25" fill="#2a5ee8" fill-opacity="0.85"/>
<rect x="417.53" y="144" width="3.0" height="12.9" fill="#2a5ee8"/>
<rect x="422.96" y="117.5" width="0.8" height="30.8" fill="#2a5ee8" fill-opacity="0.85"/>
<rect x="421.86" y="118.3" width="3.0" height="26.1" fill="#2a5ee8"/>
<rect x="427.3" y="100.3" width="0.8" height="29.7" fill="#e04c4e" fill-opacity="0.85"/>
<rect x="426.2" y="118.3" width="3.0" height="10.1" fill="#e04c4e"/>
<rect x="431.63" y="118.3" width="0.8" height="24.5" fill="#e04c4e" fill-opacity="0.85"/>
<rect x="430.53" y="127.9" width="3.0" height="7.8" fill="#e04c4e"/>
<rect x="435.97" y="117.5" width="0.8" height="20.3" fill="#2a5ee8" fill-opacity="0.85"/>
<rect x="434.87" y="117.7" width="3.0" height="18.5" fill="#2a5ee8"/>
<rect x="440.3" y="116" width="0.8" height="19.7" fill="#e04c4e" fill-opacity="0.85"/>
<rect x="439.2" y="117.5" width="3.0" height="8.3" fill="#e04c4e"/>
<rect x="444.63" y="112" width="0.8" height="14" fill="#2a5ee8" fill-opacity="0.85"/>
<rect x="443.53" y="113" width="3.0" height="12.5" fill="#2a5ee8"/>
<rect x="448.97" y="107.3" width="0.8" height="16.7" fill="#e04c4e" fill-opacity="0.85"/>
<rect x="447.87" y="113.1" width="3.0" height="7.7" fill="#e04c4e"/>
<rect x="453.3" y="105.8" width="0.8" height="35.2" fill="#e04c4e" fill-opacity="0.85"/>
<rect x="452.2" y="120.7" width="3.0" height="19.3" fill="#e04c4e"/>
<rect x="457.64" y="107.3" width="0.8" height="34.7" fill="#2a5ee8" fill-opacity="0.85"/>
<rect x="456.54" y="107.8" width="3.0" height="32.7" fill="#2a5ee8"/>
<rect x="461.97" y="93.3" width="0.8" height="15.7" fill="#2a5ee8" fill-opacity="0.85"/>
<rect x="460.87" y="96.4" width="3.0" height="11.7" fill="#2a5ee8"/>
<rect x="466.3" y="95.6" width="0.8" height="16" fill="#e04c4e" fill-opacity="0.85"/>
<rect x="465.2" y="96.4" width="3.0" height="8.3" fill="#e04c4e"/>
<rect x="470.64" y="98.4" width="0.8" height="18.8" fill="#e04c4e" fill-opacity="0.85"/>
<rect x="469.54" y="104.7" width="3.0" height="2.6" fill="#e04c4e"/>
<rect x="474.97" y="99.5" width="0.8" height="19.8" fill="#2a5ee8" fill-opacity="0.85"/>
<rect x="473.87" y="104.7" width="3.0" height="2.6" fill="#2a5ee8"/>
<rect x="479.31" y="81" width="0.8" height="26.3" fill="#2a5ee8" fill-opacity="0.85"/>
<rect x="478.21" y="82.3" width="3.0" height="22.4" fill="#2a5ee8"/>
<rect x="483.64" y="76.9" width="0.8" height="15.9" fill="#2a5ee8" fill-opacity="0.85"/>
<rect x="482.54" y="81.9" width="3.0" height="1" fill="#2a5ee8"/>
<rect x="487.97" y="81.5" width="0.8" height="14.5" fill="#e04c4e" fill-opacity="0.85"/>
<rect x="486.87" y="81.9" width="3.0" height="5.1" fill="#e04c4e"/>
<rect x="492.31" y="84.7" width="0.8" height="9.3" fill="#e04c4e" fill-opacity="0.85"/>
<rect x="491.21" y="87" width="3.0" height="5.5" fill="#e04c4e"/>
<rect x="496.64" y="87" width="0.8" height="16.75" fill="#2a5ee8" fill-opacity="0.85"/>
<rect x="495.54" y="88.1" width="3.0" height="4.4" fill="#2a5ee8"/>
<rect x="500.98" y="79.2" width="0.8" height="9.8" fill="#2a5ee8" fill-opacity="0.85"/>
<rect x="499.88" y="81.25" width="3.0" height="7.35" fill="#2a5ee8"/>
<rect x="505.31" y="65.2" width="0.8" height="16.8" fill="#2a5ee8" fill-opacity="0.85"/>
<rect x="504.21" y="65.9" width="3.0" height="15.35" fill="#2a5ee8"/>
<rect x="509.64" y="64.1" width="0.8" height="7.9" fill="#e04c4e" fill-opacity="0.85"/>
<rect x="508.54" y="65.9" width="3.0" height="5.5" fill="#e04c4e"/>
<rect x="513.98" y="61.6" width="0.8" height="30.9" fill="#e04c4e" fill-opacity="0.85"/>
<rect x="512.88" y="71.4" width="3.0" height="8.3" fill="#e04c4e"/>
<rect x="518.31" y="68.3" width="0.8" height="14.8" fill="#2a5ee8" fill-opacity="0.85"/>
<rect x="517.21" y="73" width="3.0" height="6.7" fill="#2a5ee8"/>
<rect x="522.65" y="66.25" width="0.8" height="22.35" fill="#e04c4e" fill-opacity="0.85"/>
<rect x="521.55" y="73" width="3.0" height="4.7" fill="#e04c4e"/>
<rect x="526.98" y="74.5" width="0.8" height="8.3" fill="#e04c4e" fill-opacity="0.85"/>
<rect x="525.88" y="76.9" width="3.0" height="1.85" fill="#e04c4e"/>
<rect x="531.31" y="74.5" width="0.8" height="14.1" fill="#e04c4e" fill-opacity="0.85"/>
<rect x="530.21" y="78.1" width="3.0" height="1.9" fill="#e04c4e"/>
<rect x="535.65" y="69.1" width="0.8" height="16.9" fill="#e04c4e" fill-opacity="0.85"/>
<rect x="534.55" y="80" width="3.0" height="5.5" fill="#e04c4e"/>
<rect x="539.98" y="84" width="0.8" height="39.5" fill="#e04c4e" fill-opacity="0.85"/>
<rect x="538.88" y="85" width="3.0" height="29" fill="#e04c4e"/>
<rect x="544.32" y="106" width="0.8" height="20.7" fill="#2a5ee8" fill-opacity="0.85"/>
<rect x="543.22" y="106.9" width="3.0" height="7.3" fill="#2a5ee8"/>
<rect x="548.65" y="103.4" width="0.8" height="31.6" fill="#e04c4e" fill-opacity="0.85"/>
<rect x="547.55" y="107.3" width="3.0" height="25.9" fill="#e04c4e"/>
<rect x="552.98" y="106" width="0.8" height="28.2" fill="#2a5ee8" fill-opacity="0.85"/>
<rect x="551.88" y="106.6" width="3.0" height="26.7" fill="#2a5ee8"/>
<rect x="557.32" y="95.3" width="0.8" height="19.2" fill="#2a5ee8" fill-opacity="0.85"/>
<rect x="556.22" y="96.9" width="3.0" height="10" fill="#2a5ee8"/>
<rect x="561.65" y="94.2" width="0.8" height="16.8" fill="#e04c4e" fill-opacity="0.85"/>
<rect x="560.55" y="97" width="3.0" height="13.3" fill="#e04c4e"/>
<rect x="565.99" y="104.6" width="0.8" height="25.7" fill="#e04c4e" fill-opacity="0.85"/>
<rect x="564.89" y="110.2" width="3.0" height="15.1" fill="#e04c4e"/>
<rect x="570.32" y="99.8" width="0.8" height="26.8" fill="#2a5ee8" fill-opacity="0.85"/>
<rect x="569.22" y="103" width="3.0" height="22.3" fill="#2a5ee8"/>
<rect x="574.65" y="100.6" width="0.8" height="16.9" fill="#e04c4e" fill-opacity="0.85"/>
<rect x="573.55" y="103" width="3.0" height="6.2" fill="#e04c4e"/>
<rect x="578.99" y="86.25" width="0.8" height="23.75" fill="#2a5ee8" fill-opacity="0.85"/>
<rect x="577.89" y="87.3" width="3.0" height="21.9" fill="#2a5ee8"/>
<rect x="583.32" y="86.6" width="0.8" height="53.7" fill="#e04c4e" fill-opacity="0.85"/>
<rect x="582.22" y="87.8" width="3.0" height="41.65" fill="#e04c4e"/>
<rect x="587.66" y="116.25" width="0.8" height="13.75" fill="#2a5ee8" fill-opacity="0.85"/>
<rect x="586.56" y="124" width="3.0" height="5.45" fill="#2a5ee8"/>
<rect x="591.99" y="106" width="0.8" height="29.3" fill="#2a5ee8" fill-opacity="0.85"/>
<rect x="590.89" y="106.9" width="3.0" height="17.3" fill="#2a5ee8"/>
<rect x="596.32" y="93" width="0.8" height="15" fill="#2a5ee8" fill-opacity="0.85"/>
<rect x="595.22" y="94" width="3.0" height="12.9" fill="#2a5ee8"/>
<rect x="600.66" y="70.2" width="0.8" height="31.7" fill="#2a5ee8" fill-opacity="0.85"/>
<rect x="599.56" y="79.1" width="3.0" height="15.6" fill="#2a5ee8"/>
<rect x="604.99" y="68.1" width="0.8" height="19.7" fill="#e04c4e" fill-opacity="0.85"/>
<rect x="603.89" y="79.1" width="3.0" height="4.3" fill="#e04c4e"/>
<rect x="609.33" y="79.5" width="0.8" height="15.7" fill="#e04c4e" fill-opacity="0.85"/>
<rect x="608.23" y="83.1" width="3.0" height="5.8" fill="#e04c4e"/>
<rect x="613.66" y="78" width="0.8" height="51" fill="#e04c4e" fill-opacity="0.85"/>
<rect x="612.56" y="88.9" width="3.0" height="25" fill="#e04c4e"/>
<rect x="617.99" y="112.3" width="0.8" height="67.9" fill="#e04c4e" fill-opacity="0.85"/>
<rect x="616.89" y="113.1" width="3.0" height="9.7" fill="#e04c4e"/>
<rect x="622.33" y="110.8" width="0.8" height="18.2" fill="#2a5ee8" fill-opacity="0.85"/>
<rect x="621.23" y="115" width="3.0" height="7.8" fill="#2a5ee8"/>
<rect x="626.66" y="100.3" width="0.8" height="39.2" fill="#2a5ee8" fill-opacity="0.85"/>
<rect x="625.56" y="101.9" width="3.0" height="13.1" fill="#2a5ee8"/>
<rect x="631" y="96.25" width="0.8" height="13.45" fill="#e04c4e" fill-opacity="0.85"/>
<rect x="629.9" y="101.9" width="3.0" height="4.2" fill="#e04c4e"/>
<rect x="635.33" y="93.5" width="0.8" height="18.8" fill="#2a5ee8" fill-opacity="0.85"/>
<rect x="634.23" y="94.7" width="3.0" height="11.4" fill="#2a5ee8"/>
<rect x="639.66" y="91.25" width="0.8" height="33.15" fill="#e04c4e" fill-opacity="0.85"/>
<rect x="638.56" y="94.7" width="3.0" height="28.5" fill="#e04c4e"/>
<rect x="644" y="112.3" width="0.8" height="31.2" fill="#e04c4e" fill-opacity="0.85"/>
<rect x="642.9" y="123" width="3.0" height="19.7" fill="#e04c4e"/>
<rect x="648.33" y="123.5" width="0.8" height="24.9" fill="#2a5ee8" fill-opacity="0.85"/>
<rect x="647.23" y="124.4" width="3.0" height="18.3" fill="#2a5ee8"/>
<rect x="652.67" y="117.5" width="0.8" height="15.9" fill="#2a5ee8" fill-opacity="0.85"/>
<rect x="651.57" y="121.1" width="3.0" height="3.7" fill="#2a5ee8"/>
<rect x="657" y="120" width="0.8" height="43.4" fill="#e04c4e" fill-opacity="0.85"/>
<rect x="655.9" y="121.1" width="3.0" height="32.5" fill="#e04c4e"/>
<rect x="661.33" y="144.2" width="0.8" height="17.2" fill="#2a5ee8" fill-opacity="0.85"/>
<rect x="660.23" y="145.8" width="3.0" height="7.8" fill="#2a5ee8"/>
<rect x="665.67" y="124.9" width="0.8" height="41.2" fill="#2a5ee8" fill-opacity="0.85"/>
<rect x="664.57" y="130.9" width="3.0" height="14.9" fill="#2a5ee8"/>
<rect x="670" y="122.4" width="0.8" height="15.6" fill="#e04c4e" fill-opacity="0.85"/>
<rect x="668.9" y="131" width="3.0" height="5.8" fill="#e04c4e"/>
<rect x="674.34" y="133.4" width="0.8" height="27.2" fill="#e04c4e" fill-opacity="0.85"/>
<rect x="673.24" y="136.2" width="3.0" height="8.5" fill="#e04c4e"/>
<rect x="678.67" y="133.3" width="0.8" height="20.3" fill="#2a5ee8" fill-opacity="0.85"/>
<rect x="677.57" y="136.2" width="3.0" height="8.5" fill="#2a5ee8"/>
<rect x="683" y="129.45" width="0.8" height="13.25" fill="#e04c4e" fill-opacity="0.85"/>
<rect x="681.9" y="136.2" width="3.0" height="3.3" fill="#e04c4e"/>
<rect x="687.34" y="134.5" width="0.8" height="21.1" fill="#2a5ee8" fill-opacity="0.85"/>
<rect x="686.24" y="137.7" width="3.0" height="1.8" fill="#2a5ee8"/>
<rect x="691.67" y="127.1" width="0.8" height="13.2" fill="#2a5ee8" fill-opacity="0.85"/>
<rect x="690.57" y="131.2" width="3.0" height="6.6" fill="#2a5ee8"/>
<rect x="696.01" y="126.3" width="0.8" height="11.9" fill="#e04c4e" fill-opacity="0.85"/>
<rect x="694.91" y="131.2" width="3.0" height="3.55" fill="#e04c4e"/>
<rect x="700.34" y="119.4" width="0.8" height="22.8" fill="#2a5ee8" fill-opacity="0.85"/>
<rect x="699.24" y="122" width="3.0" height="12.75" fill="#2a5ee8"/>
<rect x="704.67" y="121.7" width="0.8" height="9.3" fill="#e04c4e" fill-opacity="0.85"/>
<rect x="703.57" y="122" width="3.0" height="6.7" fill="#e04c4e"/>
<rect x="709.01" y="120.2" width="0.8" height="10.4" fill="#2a5ee8" fill-opacity="0.85"/>
<rect x="707.91" y="124" width="3.0" height="4.5" fill="#2a5ee8"/>
<rect x="713.34" y="123.3" width="0.8" height="8.4" fill="#e04c4e" fill-opacity="0.85"/>
<rect x="712.24" y="124" width="3.0" height="3.1" fill="#e04c4e"/>
<rect x="717.68" y="121.5" width="0.8" height="8.5" fill="#e04c4e" fill-opacity="0.85"/>
<rect x="716.58" y="127.1" width="3.0" height="2.2" fill="#e04c4e"/>
<rect x="722.01" y="128.5" width="0.8" height="26" fill="#e04c4e" fill-opacity="0.85"/>
<rect x="720.91" y="129" width="3.0" height="23.2" fill="#e04c4e"/>
<rect x="726.34" y="148.75" width="0.8" height="21.45" fill="#e04c4e" fill-opacity="0.85"/>
<rect x="725.24" y="151.9" width="3.0" height="16.7" fill="#e04c4e"/>
<rect x="730.68" y="154.5" width="0.8" height="16.75" fill="#2a5ee8" fill-opacity="0.85"/>
<rect x="729.58" y="160" width="3.0" height="8.6" fill="#2a5ee8"/>
<rect x="735.01" y="150.3" width="0.8" height="18.3" fill="#e04c4e" fill-opacity="0.85"/>
<rect x="733.91" y="160" width="3.0" height="3.4" fill="#e04c4e"/>
<rect x="739.35" y="153" width="0.8" height="11" fill="#2a5ee8" fill-opacity="0.85"/>
<rect x="738.25" y="154.1" width="3.0" height="9.3" fill="#2a5ee8"/>
<rect x="743.68" y="146.25" width="0.8" height="12.15" fill="#2a5ee8" fill-opacity="0.85"/>
<rect x="742.58" y="148.3" width="3.0" height="6.2" fill="#2a5ee8"/>
<rect x="748.01" y="146.7" width="0.8" height="15.6" fill="#e04c4e" fill-opacity="0.85"/>
<rect x="746.91" y="148.3" width="3.0" height="6.2" fill="#e04c4e"/>
<rect x="752.35" y="142" width="0.8" height="17.2" fill="#2a5ee8" fill-opacity="0.85"/>
<rect x="751.25" y="152.5" width="3.0" height="1.6" fill="#2a5ee8"/>
<rect x="756.68" y="146.7" width="0.8" height="42.8" fill="#e04c4e" fill-opacity="0.85"/>
<rect x="755.58" y="152.2" width="3.0" height="24.5" fill="#e04c4e"/>
<rect x="761.02" y="175.6" width="0.8" height="26.4" fill="#e04c4e" fill-opacity="0.85"/>
<rect x="759.92" y="176.7" width="3.0" height="13.9" fill="#e04c4e"/>
<rect x="765.35" y="188.9" width="0.8" height="39.7" fill="#e04c4e" fill-opacity="0.85"/>
<rect x="764.25" y="190.3" width="3.0" height="23.3" fill="#e04c4e"/>
<rect x="769.68" y="208.3" width="0.8" height="28.1" fill="#e04c4e" fill-opacity="0.85"/>
<rect x="768.58" y="213.4" width="3.0" height="13.6" fill="#e04c4e"/>
<rect x="774.02" y="212.2" width="0.8" height="16.4" fill="#2a5ee8" fill-opacity="0.85"/>
<rect x="772.92" y="219.2" width="3.0" height="7.8" fill="#2a5ee8"/>
<rect x="778.35" y="215.3" width="0.8" height="29.4" fill="#e04c4e" fill-opacity="0.85"/>
<rect x="777.25" y="219.2" width="3.0" height="7.8" fill="#e04c4e"/>
<rect x="782.69" y="206.7" width="0.8" height="22.7" fill="#2a5ee8" fill-opacity="0.85"/>
<rect x="781.59" y="209" width="3.0" height="18.5" fill="#2a5ee8"/>
<rect x="787.02" y="190.3" width="0.8" height="21.6" fill="#2a5ee8" fill-opacity="0.85"/>
<rect x="785.92" y="194.2" width="3.0" height="14.8" fill="#2a5ee8"/>
<rect x="791.35" y="190.6" width="0.8" height="19.4" fill="#e04c4e" fill-opacity="0.85"/>
<rect x="790.25" y="194.2" width="3.0" height="14.8" fill="#e04c4e"/>
<rect x="795.69" y="198.4" width="0.8" height="15.35" fill="#2a5ee8" fill-opacity="0.85"/>
<rect x="794.59" y="202" width="3.0" height="7" fill="#2a5ee8"/>
<rect x="800.02" y="194.7" width="0.8" height="11.55" fill="#2a5ee8" fill-opacity="0.85"/>
<rect x="798.92" y="199.7" width="3.0" height="2.3" fill="#2a5ee8"/>
<rect x="804.36" y="192.2" width="0.8" height="12.5" fill="#2a5ee8" fill-opacity="0.85"/>
<rect x="803.26" y="197.3" width="3.0" height="2.4" fill="#2a5ee8"/>
<rect x="808.69" y="196" width="0.8" height="23.7" fill="#e04c4e" fill-opacity="0.85"/>
<rect x="807.59" y="197.3" width="3.0" height="15.2" fill="#e04c4e"/>
<rect x="813.02" y="208.3" width="0.8" height="17.95" fill="#e04c4e" fill-opacity="0.85"/>
<rect x="811.92" y="212.5" width="3.0" height="5.2" fill="#e04c4e"/>
<rect x="817.36" y="216" width="0.8" height="20.4" fill="#e04c4e" fill-opacity="0.85"/>
<rect x="816.26" y="217.7" width="3.0" height="9.3" fill="#e04c4e"/>
<rect x="821.69" y="205.6" width="0.8" height="32.4" fill="#e04c4e" fill-opacity="0.85"/>
<rect x="820.59" y="227" width="3.0" height="9.5" fill="#e04c4e"/>
<rect x="826.03" y="232.5" width="0.8" height="84.2" fill="#e04c4e" fill-opacity="0.85"/>
<rect x="824.93" y="236.1" width="3.0" height="56.9" fill="#e04c4e"/>
<rect x="830.36" y="285" width="0.8" height="47.8" fill="#e04c4e" fill-opacity="0.85"/>
<rect x="829.26" y="293.3" width="3.0" height="22.3" fill="#e04c4e"/>
<rect x="834.69" y="294.4" width="0.8" height="27" fill="#2a5ee8" fill-opacity="0.85"/>
<rect x="833.59" y="296.9" width="3.0" height="18.7" fill="#2a5ee8"/>
<rect x="839.03" y="295" width="0.8" height="60.8" fill="#e04c4e" fill-opacity="0.85"/>
<rect x="837.93" y="296.9" width="3.0" height="15.1" fill="#e04c4e"/>
<rect x="843.36" y="301.9" width="0.8" height="23.1" fill="#2a5ee8" fill-opacity="0.85"/>
<rect x="842.26" y="308.9" width="3.0" height="3.1" fill="#2a5ee8"/>
<rect x="847.7" y="271.9" width="0.8" height="45.3" fill="#2a5ee8" fill-opacity="0.85"/>
<rect x="846.6" y="308.1" width="3.0" height="1" fill="#2a5ee8"/>
<rect x="852.03" y="299.5" width="0.8" height="30.5" fill="#e04c4e" fill-opacity="0.85"/>
<rect x="850.93" y="308.1" width="3.0" height="6.3" fill="#e04c4e"/>
<rect x="856.36" y="294" width="0.8" height="29.75" fill="#2a5ee8" fill-opacity="0.85"/>
<rect x="855.26" y="295.9" width="3.0" height="18.5" fill="#2a5ee8"/>
<rect x="860.7" y="283.1" width="0.8" height="16.4" fill="#2a5ee8" fill-opacity="0.85"/>
<rect x="859.6" y="288.1" width="3.0" height="8.3" fill="#2a5ee8"/>
<rect x="865.03" y="283.1" width="0.8" height="12.8" fill="#2a5ee8" fill-opacity="0.85"/>
<rect x="863.93" y="287.8" width="3.0" height="1.2" fill="#2a5ee8"/>
<rect x="869.37" y="274.1" width="0.8" height="31.7" fill="#2a5ee8" fill-opacity="0.85"/>
<rect x="868.27" y="276.1" width="3.0" height="12.5" fill="#2a5ee8"/>
<rect x="873.7" y="260" width="0.8" height="18" fill="#2a5ee8" fill-opacity="0.85"/>
<rect x="872.6" y="262.8" width="3.0" height="14.1" fill="#2a5ee8"/>
<rect x="878.03" y="260.5" width="0.8" height="25.75" fill="#e04c4e" fill-opacity="0.85"/>
<rect x="876.93" y="262.8" width="3.0" height="14.9" fill="#e04c4e"/>
<rect x="882.37" y="271.9" width="0.8" height="19.35" fill="#2a5ee8" fill-opacity="0.85"/>
<rect x="881.27" y="275.3" width="3.0" height="2.4" fill="#2a5ee8"/>
<rect x="886.7" y="236" width="0.8" height="42.1" fill="#2a5ee8" fill-opacity="0.85"/>
<rect x="885.6" y="237.3" width="3.0" height="38.8" fill="#2a5ee8"/>
<rect x="891.04" y="229.7" width="0.8" height="12.2" fill="#2a5ee8" fill-opacity="0.85"/>
<rect x="889.94" y="235" width="3.0" height="2.5" fill="#2a5ee8"/>
<rect x="895.37" y="228.2" width="0.8" height="14.3" fill="#2a5ee8" fill-opacity="0.85"/>
<rect x="894.27" y="230" width="3.0" height="5.5" fill="#2a5ee8"/>
<rect x="899.7" y="215" width="0.8" height="22.8" fill="#2a5ee8" fill-opacity="0.85"/>
<rect x="898.6" y="220.2" width="3.0" height="10.2" fill="#2a5ee8"/>
<rect x="904.04" y="209.6" width="0.8" height="23.5" fill="#e04c4e" fill-opacity="0.85"/>
<rect x="902.94" y="220.2" width="3.0" height="3.3" fill="#e04c4e"/>
<rect x="908.37" y="205.5" width="0.8" height="24.2" fill="#2a5ee8" fill-opacity="0.85"/>
<rect x="907.27" y="208.2" width="3.0" height="15.3" fill="#2a5ee8"/>
<rect x="912.71" y="204.3" width="0.8" height="25.7" fill="#e04c4e" fill-opacity="0.85"/>
<rect x="911.61" y="208.2" width="3.0" height="20.3" fill="#e04c4e"/>
<rect x="917.04" y="220.6" width="0.8" height="29.7" fill="#e04c4e" fill-opacity="0.85"/>
<rect x="915.94" y="228.3" width="3.0" height="17.3" fill="#e04c4e"/>
<rect x="921.37" y="239" width="0.8" height="14.4" fill="#e04c4e" fill-opacity="0.85"/>
<rect x="920.27" y="245.6" width="3.0" height="1.3" fill="#e04c4e"/>
<rect x="925.71" y="243.3" width="0.8" height="12.95" fill="#e04c4e" fill-opacity="0.85"/>
<rect x="924.61" y="246.9" width="3.0" height="5.8" fill="#e04c4e"/>
<rect x="930.04" y="241.25" width="0.8" height="16.55" fill="#2a5ee8" fill-opacity="0.85"/>
<rect x="928.94" y="245.3" width="3.0" height="7.4" fill="#2a5ee8"/>
<rect x="934.38" y="219.2" width="0.8" height="26.8" fill="#2a5ee8" fill-opacity="0.85"/>
<rect x="933.28" y="223.3" width="3.0" height="22.3" fill="#2a5ee8"/>
</g>
<rect x="980.2" y="15.2" width="0.8" height="478.8" fill="#e3e5ea"/>
<rect x="6" y="478.4" width="1012.2" height="0.8" fill="#e3e5ea"/>
<g font-size="6.7" fill="#30343e" filter="url(#soft)">
<text x="986" y="53.9">5000.00</text>
<text x="986" y="84.1">4600.00</text>
<text x="986" y="117.05">4200.00</text>
<text x="986" y="134.72">4000.00</text>
<text x="986" y="153.3">3800.00</text>
<text x="986" y="172.88">3600.00</text>
<text x="986" y="193.59">3400.00</text>
<text x="986" y="215.55">3200.00</text>
<text x="986" y="238.92">3000.00</text>
<text x="986" y="263.91">2800.00</text>
<text x="986" y="283.85">2650.00</text>
<text x="986" y="304.96">2500.00</text>
<text x="986" y="322.77">2380.00</text>
<text x="986" y="341.51">2260.00</text>
<text x="986" y="361.27">2140.00</text>
<text x="986" y="378.61">2040.00</text>
<text x="986" y="396.81">1940.00</text>
<text x="986" y="415.98">1840.00</text>
<text x="986" y="436.22">1740.00</text>
<text x="986" y="453.27">1660.00</text>
<text x="986" y="471.16">1580.00</text>
</g>
<g font-size="6.7" fill="#30343e" filter="url(#soft)">
<text x="76.64" y="489" text-anchor="middle">Aug</text>
<text x="141.65" y="489" text-anchor="middle">16</text>
<text x="211" y="489" text-anchor="middle">Sep</text>
<text x="263.01" y="489" text-anchor="middle">13</text>
<text x="341.02" y="489" text-anchor="middle">Oct</text>
<text x="414.7" y="489" text-anchor="middle">18</text>
<text x="475.37" y="489" text-anchor="middle">Nov</text>
<text x="536.05" y="489" text-anchor="middle">15</text>
<text x="605.39" y="489" text-anchor="middle">Dec</text>
<text x="657.4" y="489" text-anchor="middle">13</text>
<text x="739.75" y="489" text-anchor="middle" font-weight="bold">2022</text>
<text x="809.09" y="489" text-anchor="middle">17</text>
<text x="874.1" y="489" text-anchor="middle">Feb</text>
<text x="930.44" y="489" text-anchor="middle">14</text>
</g>
<text x="986" y="25.8" font-size="6.8" fill="#131722" filter="url(#soft)">5</text>
<rect x="989.8" y="18.6" width="19.4" height="9.6" rx="2.4" fill="#ffffff" stroke="#e0e3eb" stroke-width="0.6"/>
<text x="992" y="25.8" font-size="6.8" fill="#131722" filter="url(#soft)" textLength="15" lengthAdjust="spacingAndGlyphs">USDT</text>
<rect x="946.1" y="219" width="34" height="9" fill="#e8374a"/>
<text x="948.8" y="226.2" font-size="6.8" fill="#ffffff" stroke="#ffffff" stroke-width="0.12" filter="url(#soft)" textLength="27" lengthAdjust="spacingAndGlyphs">ETHUSDT</text>
<rect x="980.3" y="219" width="35.5" height="16.7" rx="0.8" fill="#e8374a"/>
<text x="986.2" y="226.6" font-size="7.2" fill="#ffffff" stroke="#ffffff" stroke-width="0.12" filter="url(#soft)" textLength="25" lengthAdjust="spacingAndGlyphs">3110.97</text>
<text x="986.2" y="234.4" font-size="7.2" fill="#ffffff" stroke="#ffffff" stroke-width="0.12" filter="url(#soft)" textLength="25.6" lengthAdjust="spacingAndGlyphs">04:22:24</text>
<g font-size="6.55" stroke-width="0.14" filter="url(#soft)">
<text x="10.1" y="25.6" fill="#2f323c" stroke="#2f323c" textLength="104.6" lengthAdjust="spacingAndGlyphs">Ethereum / TetherUS, 1D, BINANCE</text>
<text x="119.4" y="25.6" fill="#2f323c" stroke="#2f323c">O</text><text x="124.2" y="25.6" fill="#3563ec" stroke="#3563ec" textLength="23.4" lengthAdjust="spacingAndGlyphs">2929.75</text>
<text x="151.9" y="25.6" fill="#2f323c" stroke="#2f323c">H</text><text x="156.6" y="25.6" fill="#3563ec" stroke="#3563ec" textLength="23" lengthAdjust="spacingAndGlyphs">3149.00</text>
<text x="184.2" y="25.6" fill="#2f323c" stroke="#2f323c">L</text><text x="187.8" y="25.6" fill="#3563ec" stroke="#3563ec" textLength="22.8" lengthAdjust="spacingAndGlyphs">2912.06</text>
<text x="215.2" y="25.6" fill="#2f323c" stroke="#2f323c">C</text><text x="219.6" y="25.6" fill="#3563ec" stroke="#3563ec" textLength="22.3" lengthAdjust="spacingAndGlyphs">3110.97</text>
<text x="246.2" y="25.6" fill="#3563ec" stroke="#3563ec" textLength="50.6" lengthAdjust="spacingAndGlyphs">+181.22 (+6.19%)</text>
<text x="10.1" y="34.8" fill="#2f323c" stroke="#2f323c">Vol</text>
<text x="23.4" y="34.8" fill="#26a69a" stroke="#26a69a" textLength="27.3" lengthAdjust="spacingAndGlyphs">386.383K</text>
</g>
<g fill="#d1d4dc">
<path d="M5.3 501 H9.8 V506.4 H7.8 V503 H5.3 Z"/>
<circle cx="11.7" cy="502.2" r="1.05"/>
<path d="M13.9 501 H16.1 L14.1 506.4 H12 Z"/>
</g>
<text x="18.75" y="506.9" font-size="7.4" fill="#d1d4dc" stroke="#d1d4dc" stroke-width="0.12" filter="url(#soft)" textLength="38.7" lengthAdjust="spacingAndGlyphs">TradingView</text>
</svg>
</body></html>
